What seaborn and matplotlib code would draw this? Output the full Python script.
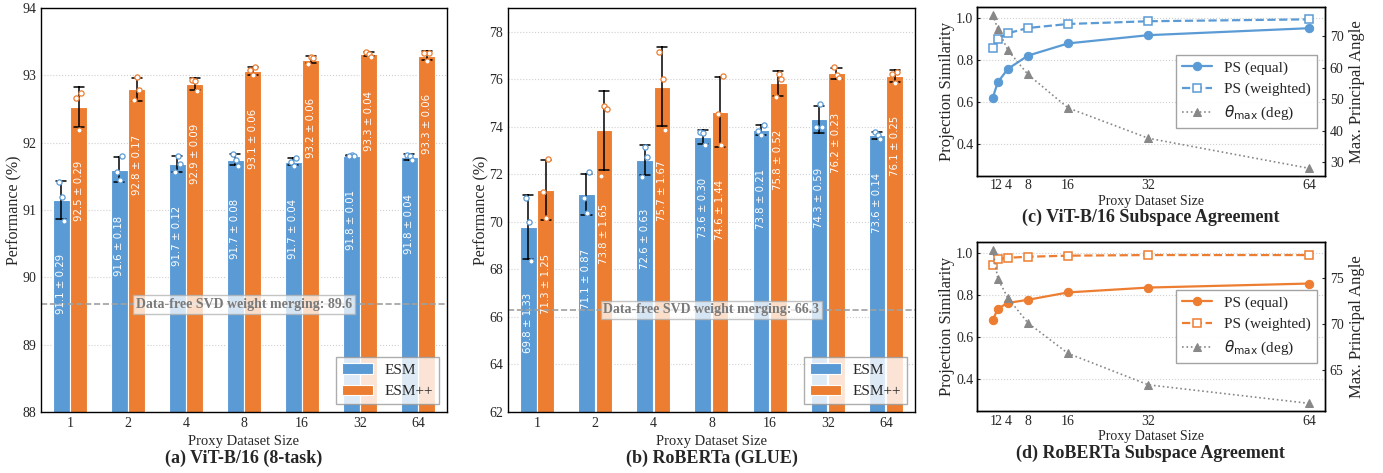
import numpy as np
import pandas as pd
import matplotlib.pyplot as plt
import matplotlib.transforms as mtransforms
import seaborn as sns

sizes = [1, 2, 4, 8, 16, 32, 64]
methods = ["ESM", "ESM++"]
blue = "#5B9BD5"
orange = "#ED7D31"

# per-seed scores (3 seeds), ViT-B/16
vit_esm_runs = [[91.41, 91.20, 90.84], [91.80, 91.56, 91.44], [91.80, 91.69, 91.56],
                [91.83, 91.75, 91.66], [91.77, 91.72, 91.66], [91.82, 91.80, 91.80],
                [91.82, 91.80, 91.74]]
vit_espp_runs = [[92.74, 92.66, 92.19], [92.97, 92.78, 92.63], [92.93, 92.92, 92.77],
                 [93.12, 93.08, 93.00], [93.27, 93.26, 93.17], [93.35, 93.32, 93.28],
                 [93.33, 93.33, 93.22]]
# printed mean / std labels
vit_esm_mean = [91.1, 91.6, 91.7, 91.7, 91.7, 91.8, 91.8]
vit_esm_std = [0.29, 0.18, 0.12, 0.08, 0.04, 0.01, 0.04]
vit_espp_mean = [92.5, 92.8, 92.9, 93.1, 93.2, 93.3, 93.3]
vit_espp_std = [0.29, 0.17, 0.09, 0.06, 0.06, 0.04, 0.06]
vit_svd = 89.6

# RoBERTa (GLUE)
rob_esm_runs = [[71.02, 69.98, 68.37], [72.09, 71.02, 70.36], [73.15, 72.75, 71.91],
                [73.77, 73.74, 73.22], [74.09, 73.84, 73.67], [74.97, 73.98, 73.98],
                [73.78, 73.67, 73.49]]
rob_espp_runs = [[72.64, 71.25, 70.15], [74.86, 74.77, 71.94], [77.16, 76.02, 73.88],
                 [76.13, 74.54, 73.22], [76.23, 76.03, 75.24], [76.51, 76.20, 76.06],
                 [76.31, 76.24, 75.85]]
rob_esm_mean = [69.8, 71.1, 72.6, 73.6, 73.8, 74.3, 73.6]
rob_esm_std = [1.33, 0.87, 0.63, 0.30, 0.21, 0.59, 0.14]
rob_espp_mean = [71.3, 73.8, 75.7, 74.6, 75.8, 76.2, 76.1]
rob_espp_std = [1.25, 1.65, 1.67, 1.44, 0.52, 0.23, 0.25]
rob_svd = 66.3

# subspace agreement
vit_ps_equal = [0.621, 0.694, 0.757, 0.820, 0.878, 0.917, 0.950]
vit_ps_weighted = [0.854, 0.898, 0.926, 0.951, 0.970, 0.983, 0.992]
vit_theta = [76.7, 72.2, 65.5, 57.8, 47.2, 37.6, 28.1]
rob_ps_equal = [0.680, 0.735, 0.762, 0.777, 0.812, 0.835, 0.854]
rob_ps_weighted = [0.942, 0.969, 0.976, 0.981, 0.986, 0.989, 0.989]
rob_theta = [78.0, 74.9, 72.8, 70.1, 66.8, 63.4, 61.4]

sns.set_style("white")
plt.rcParams["font.family"] = ["Liberation Serif", "DejaVu Serif"]
plt.rcParams["mathtext.fontset"] = "dejavusans"
plt.rcParams["xtick.direction"] = "in"
plt.rcParams["ytick.direction"] = "in"

fig = plt.figure(figsize=(13.83, 4.73), dpi=100)
ax_a = fig.add_axes([0.0296, 0.129, 0.2936, 0.854])
ax_b = fig.add_axes([0.3673, 0.129, 0.2943, 0.854])
ax_c = fig.add_axes([0.7064, 0.628, 0.2516, 0.357])
ax_d = fig.add_axes([0.7064, 0.131, 0.2516, 0.357])


def long_table(esm_runs, espp_runs):
    rows = []
    for name, runs in zip(methods, [esm_runs, espp_runs]):
        for s, vals in zip(sizes, runs):
            for v in vals:
                rows.append({"size": str(s), "method": name, "perf": v})
    return pd.DataFrame(rows)


def bar_panel(ax, esm_runs, espp_runs, means, stds, svd, ylim, yticks, title, xc):
    df = long_table(esm_runs, espp_runs)
    sns.barplot(data=df, x="size", y="perf", hue="method", palette=[blue, orange],
                saturation=1, errorbar="sd", capsize=0.35, width=0.6, gap=0.05,
                edgecolor="white", linewidth=0.8,
                err_kws={"color": "black", "linewidth": 1.1}, ax=ax, zorder=2)
    jit = np.array([-0.045, 0.01, 0.045])
    for k, (cont, runs, color) in enumerate(zip(ax.containers, [esm_runs, espp_runs], [blue, orange])):
        for i, bar in enumerate(cont):
            cx = bar.get_x() + bar.get_width() / 2
            ax.scatter(cx + np.roll(jit, i + k), runs[i], s=14, facecolor="white",
                       edgecolor=color, linewidth=0.9, zorder=4)
            m, sd = means[k][i], stds[k][i]
            ax.annotate(f"{m:.1f} ± {sd:.2f}", xy=(cx, bar.get_height() - sd),
                        xytext=(0, -24.5), textcoords="offset points", rotation=90,
                        ha="center", va="top", color="white", fontsize=7.3,
                        family="DejaVu Sans", zorder=5)
    ax.axhline(svd, ls="--", color="#a0a0a0", lw=1.2, zorder=2.5)
    trans = mtransforms.blended_transform_factory(ax.transAxes, ax.transData)
    ax.text(0.5, svd, f"Data-free SVD weight merging: {svd}", transform=trans,
            ha="center", va="center", fontsize=10, fontweight="bold", color="#7a7a7a",
            zorder=6, bbox=dict(boxstyle="square,pad=0.2", facecolor="white",
                                edgecolor="#b0b0b0", alpha=0.75))
    ax.set_ylim(*ylim)
    ax.set_yticks(yticks)
    ax.set_xlim(-0.5, 6.5)
    ax.grid(axis="y", ls=":", color="#d0d0d0", lw=0.8, zorder=0)
    ax.set_axisbelow(True)
    ax.set_xlabel("Proxy Dataset Size", fontsize=10.5)
    ax.set_ylabel("Performance (%)", fontsize=11.5, labelpad=0)
    ax.tick_params(labelsize=10, length=2)
    for sp in ax.spines.values():
        sp.set_color("black")
        sp.set_linewidth(1.0)
    sns.move_legend(ax, "lower right", title=None, fontsize=11, frameon=True,
                    fancybox=False, edgecolor="#999999", framealpha=0.8)
    fig.text(xc, 0.032, title, ha="center", va="center", fontsize=13, fontweight="bold")


bar_panel(ax_a, vit_esm_runs, vit_espp_runs, [vit_esm_mean, vit_espp_mean],
          [vit_esm_std, vit_espp_std], vit_svd, (88, 94), range(88, 95),
          "(a) ViT-B/16 (8-task)", 0.1764)
bar_panel(ax_b, rob_esm_runs, rob_espp_runs, [rob_esm_mean, rob_espp_mean],
          [rob_esm_std, rob_espp_std], rob_svd, (62, 79), range(62, 79, 2),
          "(b) RoBERTa (GLUE)", 0.5145)


def agree_panel(ax, ps_equal, ps_weighted, theta, color, theta_ticks, title, ty):
    sns.lineplot(x=sizes, y=ps_equal, ax=ax, color=color, marker="o", markersize=6,
                 markeredgecolor=color, lw=1.6, label="PS (equal)", legend=False)
    sns.lineplot(x=sizes, y=ps_weighted, ax=ax, color=color, marker="s", markersize=5.5,
                 markerfacecolor="white", markeredgecolor=color, markeredgewidth=1.1,
                 lw=1.6, ls="--", label="PS (weighted)", legend=False)
    ax2 = ax.twinx()
    sns.lineplot(x=sizes, y=theta, ax=ax2, color="#888888", marker="^", markersize=6,
                 markeredgecolor="#888888", lw=1.2, ls=":", label=r"$\theta_{\max}$ (deg)",
                 legend=False)
    ax.set_ylim(0.25, 1.05)
    ax.set_yticks([0.4, 0.6, 0.8, 1.0])
    ax2.set_yticks(theta_ticks)
    ax.set_xticks(sizes)
    ax.set_xticklabels([str(s) for s in sizes])
    ax.grid(axis="y", ls=":", color="#d0d0d0", lw=0.8)
    ax.set_xlabel("Proxy Dataset Size", fontsize=10, labelpad=1.5)
    ax.set_ylabel("Projection Similarity", fontsize=12, labelpad=1)
    ax2.set_ylabel("Max. Principal Angle", fontsize=12)
    ax.tick_params(labelsize=10, length=2.5, pad=2.5)
    ax2.tick_params(labelsize=10, length=2.5)
    for a in (ax, ax2):
        for sp in a.spines.values():
            sp.set_color("black")
            sp.set_linewidth(1.0)
    h1, l1 = ax.get_legend_handles_labels()
    h2, l2 = ax2.get_legend_handles_labels()
    ax2.legend(h1 + h2, l1 + l2, loc="center right", fontsize=11, fancybox=False,
               edgecolor="#999999", framealpha=0.9)
    fig.text(0.8322, ty, title, ha="center", va="center", fontsize=13, fontweight="bold")


agree_panel(ax_c, vit_ps_equal, vit_ps_weighted, vit_theta, blue, [30, 40, 50, 60, 70],
            "(c) ViT-B/16 Subspace Agreement", 0.541)
agree_panel(ax_d, rob_ps_equal, rob_ps_weighted, rob_theta, orange, [65, 70, 75],
            "(d) RoBERTa Subspace Agreement", 0.041)

fig.savefig("out.png", dpi=100)
